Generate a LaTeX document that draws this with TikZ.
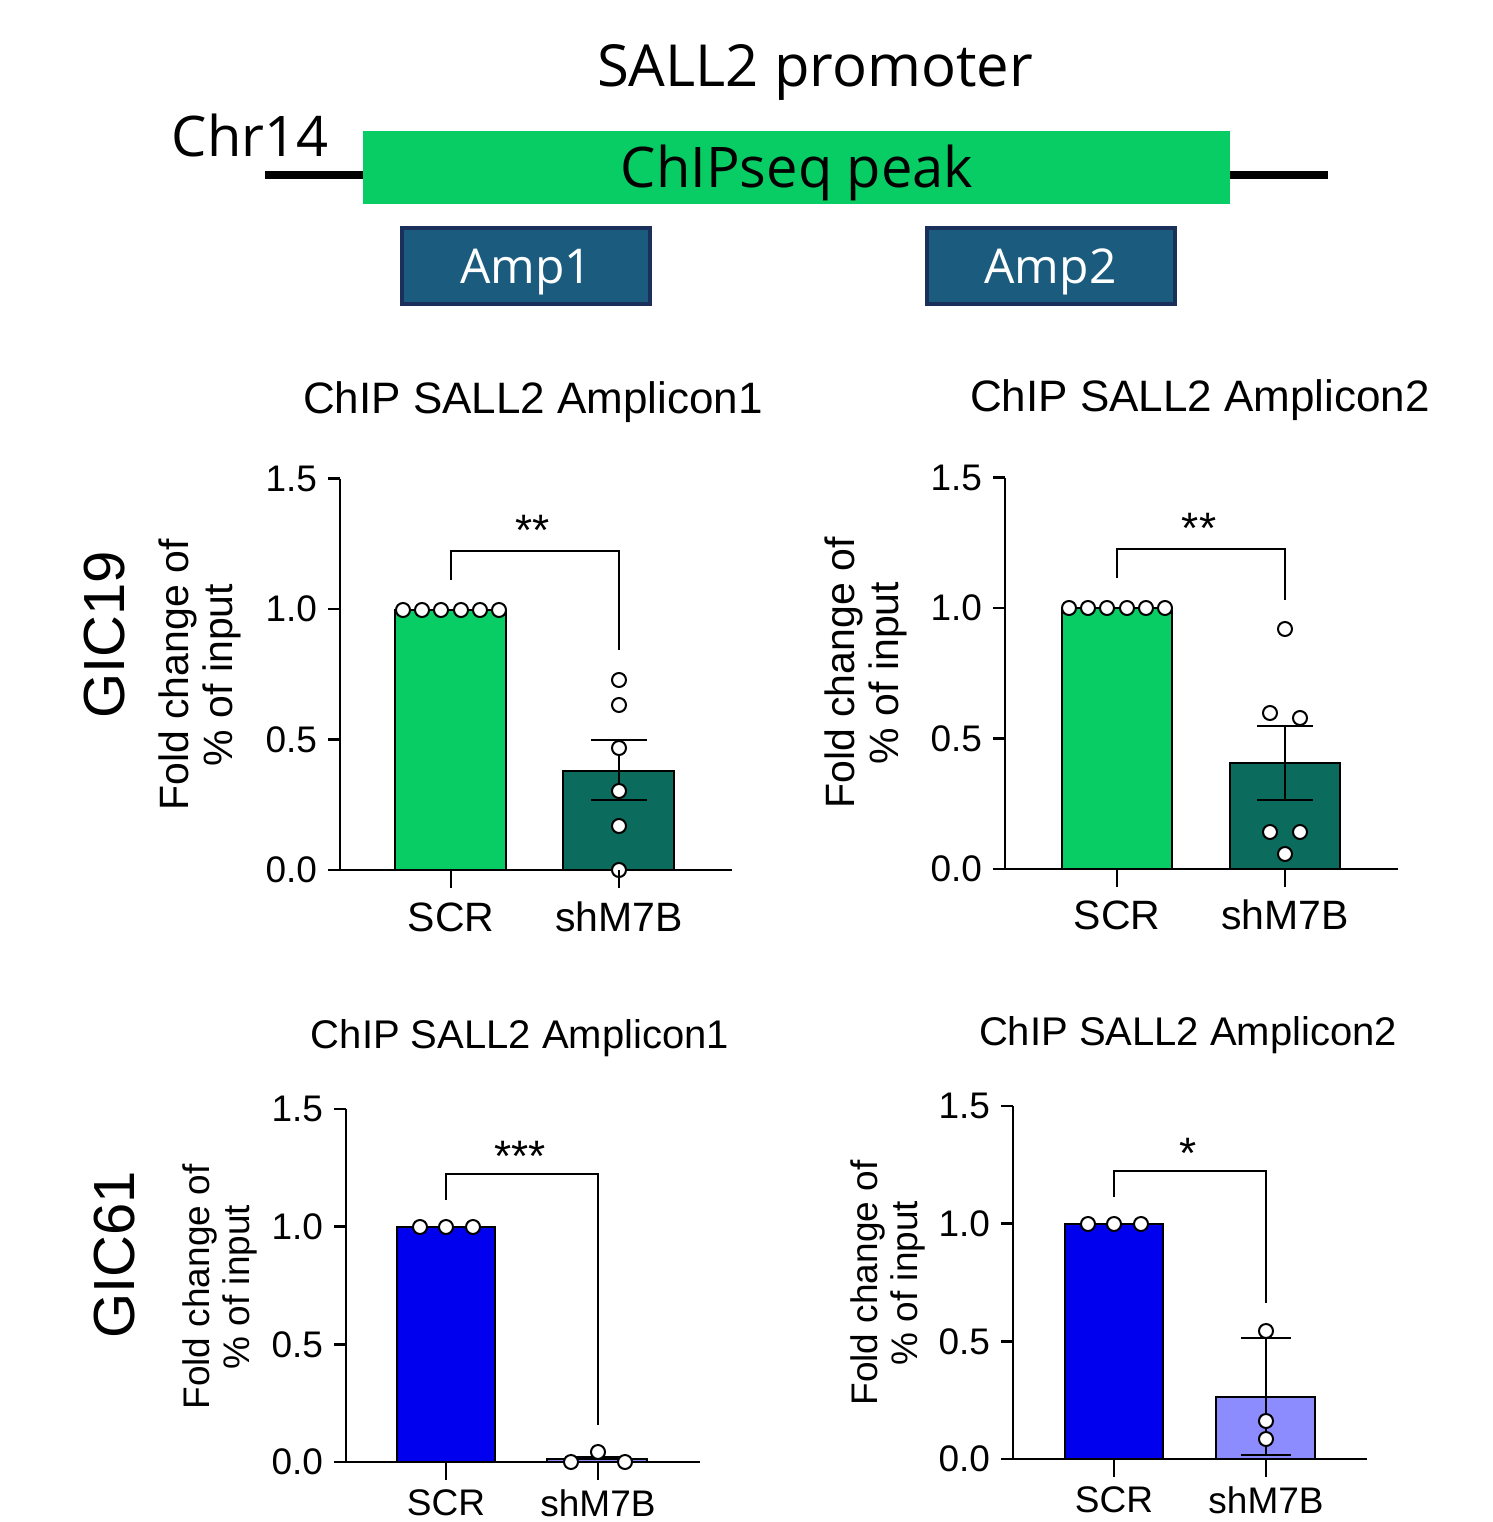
\documentclass[tikz,border=0pt]{standalone}
\usepackage{fontspec}
\setmainfont{Liberation Sans}
\newfontfamily\hdr{Open Sans}
\definecolor{peak}{HTML}{08CC64}
\definecolor{ampf}{HTML}{1B5C7E}
\definecolor{ampd}{HTML}{1A2F5A}
\definecolor{dgreen}{HTML}{0B6B5C}
\definecolor{blu}{HTML}{0000EE}
\definecolor{lblu}{HTML}{8C8CFF}
\tikzset{
 ax/.style={line width=1.3pt},
 pt/.style={circle,draw,fill=white,line width=1pt,inner sep=0pt,minimum size=7pt},
 tl/.style={font=\fontsize{18.5}{20}\selectfont,anchor=east},
 xl/.style={font=\fontsize{20.5}{22}\selectfont},
 xlB/.style={font=\fontsize{18.5}{22}\selectfont},
 ttlA/.style={font=\fontsize{22}{24}\selectfont},
 ttlB/.style={font=\fontsize{20}{24}\selectfont},
 star/.style={font=\fontsize{22}{24}\selectfont},
 yl/.style={font=\fontsize{20.5}{22}\selectfont,align=center,rotate=90},
 ylB/.style={font=\fontsize{18.5}{20}\selectfont,align=center,rotate=90},
 gic/.style={font=\fontsize{29}{32}\selectfont,rotate=90},
 ampbox/.style={draw=ampd,line width=2pt,fill=ampf,minimum width=124pt,minimum height=38pt},
 hd/.style={font=\hdr\fontsize{28}{30}\selectfont},
}
\begin{document}
\begin{tikzpicture}[x=0.5pt,y=-0.5pt]
\useasboundingbox (0,0) rectangle (1493,1522);
% header
\node[font=\hdr\fontsize{29}{32}\selectfont] (title) at (815,72) {SALL2 promoter};
\node[hd] (chr) at (250,135) {Chr14};
\coordinate (l0) at (265,175); \coordinate (l1) at (1328,175);
\draw[line width=4pt] (l0) -- (l1);
\node[fill=peak,minimum width=433.5pt,minimum height=36.5pt,inner sep=0pt] (peak) at (796.5,167.5) {};
\node[hd] at (797,173) {ChIPseq peak};
\node[ampbox] (a1) at (526,265.5) {};
\node[ampbox] (a2) at (1050.5,265.5) {};
\node[font=\hdr\fontsize{24}{26}\selectfont,text=white] at (526,272) {Amp1};
\node[font=\hdr\fontsize{24}{26}\selectfont,text=white] at (1050.5,272) {Amp2};
% ---------- Panel 1
\begin{scope}
\def\X{340}\def\Z{870}\def\U{261}
\node[ttlA] (t1) at (533,402) {ChIP SALL2 Amplicon1};
\node[gic] (g19) at (105,635) {GIC19};
\node[yl] (y1) at (200,675) {Fold change of\\\% of input};
\draw[ax] (\X,{\Z-1.5*\U}) -- (\X,\Z) -- (732,\Z);
\foreach \v/\s in {0/0.0,0.5/0.5,1/1.0,1.5/1.5}{\draw[ax] (\X,{\Z-\v*\U}) -- ({\X-12},{\Z-\v*\U}); \node[tl] at ({\X-16},{\Z-\v*\U}) {\s};}
\fill[peak,draw=black,line width=1pt] (395,\Z) rectangle (506,610);
\fill[dgreen,draw=black,line width=1pt] (563,\Z) rectangle (674,771);
\draw[ax] (619,800) -- (619,740); \draw[ax] (591,740) -- (647,740); \draw[ax] (591,800) -- (647,800);
\foreach \x in {403,422,441,461,480,499} \node[pt] at (\x,610) {};
\foreach \y in {680,705,748,791,826,870} \node[pt] at (619,\y) {};
\draw[ax] (451,580) -- (451,551) -- (619,551) -- (619,650);
\node[star] at (533,530) {**};
\draw[ax] (451,\Z) -- (451,888); \draw[ax] (619,\Z) -- (619,888);
\node[xl] at (451,917) {SCR}; \node[xl] at (619,917) {shM7B};
\end{scope}
% ---------- Panel 2
\begin{scope}
\def\X{1005}\def\Z{869}\def\U{261}
\node[ttlA] (t2) at (1200,400) {ChIP SALL2 Amplicon2};
\node[yl] (y2) at (866,673) {Fold change of\\\% of input};
\draw[ax] (\X,{\Z-1.5*\U}) -- (\X,\Z) -- (1398,\Z);
\foreach \v/\s in {0/0.0,0.5/0.5,1/1.0,1.5/1.5}{\draw[ax] (\X,{\Z-\v*\U}) -- ({\X-12},{\Z-\v*\U}); \node[tl] at ({\X-16},{\Z-\v*\U}) {\s};}
\fill[peak,draw=black,line width=1pt] (1062,\Z) rectangle (1172,608);
\fill[dgreen,draw=black,line width=1pt] (1230,\Z) rectangle (1340,763);
\draw[ax] (1285,800) -- (1285,726); \draw[ax] (1257,726) -- (1313,726); \draw[ax] (1257,800) -- (1313,800);
\foreach \x in {1069,1088,1107,1127,1146,1165} \node[pt] at (\x,608) {};
\foreach \x/\y in {1285/629,1270/713,1300/718,1270/832,1300/832,1285/854} \node[pt] at (\x,\y) {};
\draw[ax] (1117,578) -- (1117,549) -- (1285,549) -- (1285,600);
\node[star] at (1199,528) {**};
\draw[ax] (1117,\Z) -- (1117,887); \draw[ax] (1285,\Z) -- (1285,887);
\node[xl] at (1117,915) {SCR}; \node[xl] at (1285,915) {shM7B};
\end{scope}
% ---------- Panel 3
\begin{scope}
\def\X{346}\def\Z{1462}\def\U{235.3}
\node[ttlB] (t3) at (520,1038) {ChIP SALL2 Amplicon1};
\node[gic] (g61) at (115,1255) {GIC61};
\node[ylB] (y3) at (220,1287) {Fold change of\\\% of input};
\draw[ax] (\X,{\Z-1.5*\U}) -- (\X,\Z) -- (700,\Z);
\foreach \v/\s in {0/0.0,0.5/0.5,1/1.0,1.5/1.5}{\draw[ax] (\X,{\Z-\v*\U}) -- ({\X-12},{\Z-\v*\U}); \node[tl] at ({\X-16},{\Z-\v*\U}) {\s};}
\fill[blu,draw=black,line width=1pt] (397,\Z) rectangle (495,1227);
\fill[lblu,draw=black,line width=1pt] (547,\Z) rectangle (647,1459);
\draw[ax] (575,1457) -- (621,1457);
\foreach \x in {420,446,473} \node[pt] at (\x,1227) {};
\foreach \x/\y in {571/1462,598/1452,625/1462} \node[pt] at (\x,\y) {};
\draw[ax] (446,1200) -- (446,1174) -- (598,1174) -- (598,1425);
\node[star] at (520,1156) {***};
\draw[ax] (446,\Z) -- (446,1480); \draw[ax] (598,\Z) -- (598,1480);
\node[xlB] at (446,1503) {SCR}; \node[xlB] at (598,1503) {shM7B};
\end{scope}
% ---------- Panel 4
\begin{scope}
\def\X{1013}\def\Z{1459}\def\U{235.3}
\node[ttlB] (t4) at (1188,1035) {ChIP SALL2 Amplicon2};
\node[ylB] (y4) at (888,1283) {Fold change of\\\% of input};
\draw[ax] (\X,{\Z-1.5*\U}) -- (\X,\Z) -- (1367,\Z);
\foreach \v/\s in {0/0.0,0.5/0.5,1/1.0,1.5/1.5}{\draw[ax] (\X,{\Z-\v*\U}) -- ({\X-12},{\Z-\v*\U}); \node[tl] at ({\X-16},{\Z-\v*\U}) {\s};}
\fill[blu,draw=black,line width=1pt] (1065,\Z) rectangle (1163,1224);
\fill[lblu,draw=black,line width=1pt] (1216,\Z) rectangle (1315,1397);
\draw[ax] (1266,1455) -- (1266,1338); \draw[ax] (1241,1338) -- (1291,1338); \draw[ax] (1241,1455) -- (1291,1455);
\foreach \x in {1088,1114,1141} \node[pt] at (\x,1224) {};
\foreach \y in {1331,1421,1439} \node[pt] at (1266,\y) {};
\draw[ax] (1114,1197) -- (1114,1171) -- (1266,1171) -- (1266,1303);
\node[star] at (1188,1153) {*};
\draw[ax] (1114,\Z) -- (1114,1477); \draw[ax] (1266,\Z) -- (1266,1477);
\node[xlB] at (1114,1500) {SCR}; \node[xlB] at (1266,1500) {shM7B};
\end{scope}
\end{tikzpicture}
\end{document}
